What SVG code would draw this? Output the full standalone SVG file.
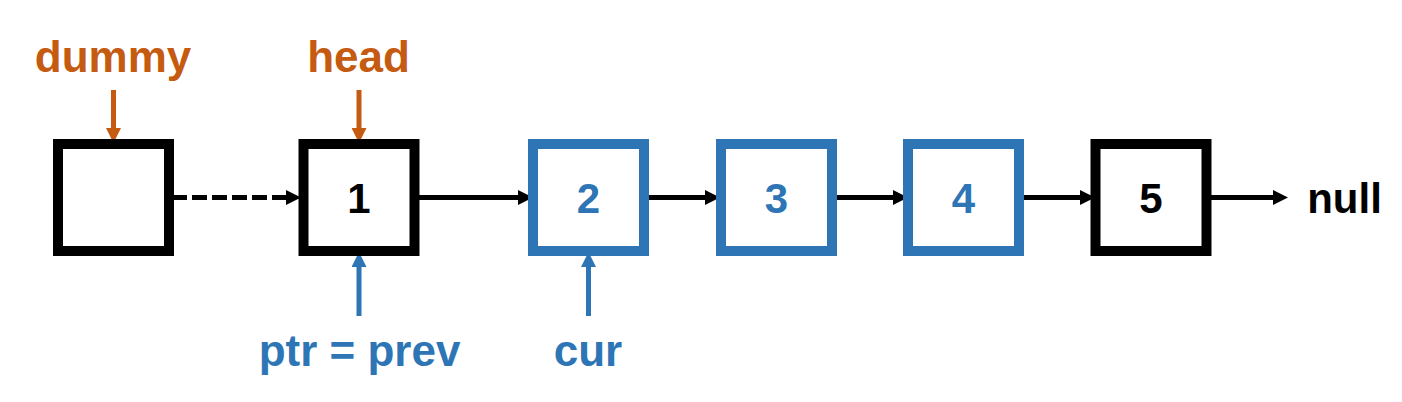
<svg xmlns="http://www.w3.org/2000/svg" width="1402" height="402" viewBox="0 0 1402 402">
<style>
.txt{font-family:"Liberation Sans",Arial,sans-serif;font-weight:bold;text-anchor:middle}
.box{fill:#fff;stroke-width:10}
.bk{stroke:#000}
.bl{stroke:#2E75B6}
.link{stroke:#000;stroke-width:5;fill:none}
.ptrO{stroke:#C55A11;stroke-width:5;fill:none}
.ptrB{stroke:#2E75B6;stroke-width:5;fill:none}
</style>
<defs>
<marker id="ahK" markerUnits="userSpaceOnUse" markerWidth="15" markerHeight="15" refX="0" refY="7.5" orient="auto"><path d="M0,0 L15,7.5 L0,15 z" fill="#000"/></marker>
<marker id="ahO" markerUnits="userSpaceOnUse" markerWidth="15" markerHeight="15" refX="0" refY="7.5" orient="auto"><path d="M0,0 L15,7.5 L0,15 z" fill="#C55A11"/></marker>
<marker id="ahB" markerUnits="userSpaceOnUse" markerWidth="15" markerHeight="15" refX="0" refY="7.5" orient="auto"><path d="M0,0 L15,7.5 L0,15 z" fill="#2E75B6"/></marker>
</defs>
<rect width="1402" height="402" fill="#fff"/>
<g id="connectors">
<line class="link" x1="172" y1="197.5" x2="286" y2="197.5" stroke-dasharray="15 5" marker-end="url(#ahK)"/>
<line class="link" x1="418" y1="197.5" x2="518" y2="197.5" marker-end="url(#ahK)"/>
<line class="link" x1="646" y1="197.5" x2="705" y2="197.5" marker-end="url(#ahK)"/>
<line class="link" x1="833" y1="197.5" x2="893" y2="197.5" marker-end="url(#ahK)"/>
<line class="link" x1="1021" y1="197.5" x2="1080" y2="197.5" marker-end="url(#ahK)"/>
<line class="link" x1="1210" y1="197.5" x2="1273" y2="197.5" marker-end="url(#ahK)"/>
<line class="ptrO" x1="113.5" y1="90" x2="113.5" y2="128" marker-end="url(#ahO)"/>
<line class="ptrO" x1="359" y1="90" x2="359" y2="128" marker-end="url(#ahO)"/>
<line class="ptrB" x1="359" y1="316" x2="359" y2="267" marker-end="url(#ahB)"/>
<line class="ptrB" x1="588.5" y1="316" x2="588.5" y2="267" marker-end="url(#ahB)"/>
</g>
<g id="node-dummy"><rect class="box bk" x="58" y="144" width="111" height="107"/></g>
<g id="node-1"><rect class="box bk" x="303.5" y="144" width="111" height="107"/><text class="txt" x="359" y="213" font-size="42" fill="#000">1</text></g>
<g id="node-2"><rect class="box bl" x="533" y="144" width="111" height="107"/><text class="txt" x="588.5" y="213" font-size="42" fill="#2E75B6">2</text></g>
<g id="node-3"><rect class="box bl" x="721" y="144" width="111" height="107"/><text class="txt" x="776.5" y="213" font-size="42" fill="#2E75B6">3</text></g>
<g id="node-4"><rect class="box bl" x="908" y="144" width="111" height="107"/><text class="txt" x="963.5" y="213" font-size="42" fill="#2E75B6">4</text></g>
<g id="node-5"><rect class="box bk" x="1095.5" y="144" width="111" height="107"/><text class="txt" x="1151" y="213" font-size="42" fill="#000">5</text></g>
<g id="label-null"><text class="txt" x="1344.5" y="213" font-size="42" fill="#000">null</text></g>
<g id="label-dummy"><text class="txt" x="113" y="72" font-size="44" fill="#C55A11">dummy</text></g>
<g id="label-head"><text class="txt" x="358.5" y="72" font-size="44" fill="#C55A11">head</text></g>
<g id="label-ptr"><text class="txt" x="359.5" y="366" font-size="44" fill="#2E75B6">ptr = prev</text></g>
<g id="label-cur"><text class="txt" x="588" y="366" font-size="44" fill="#2E75B6">cur</text></g>
</svg>
